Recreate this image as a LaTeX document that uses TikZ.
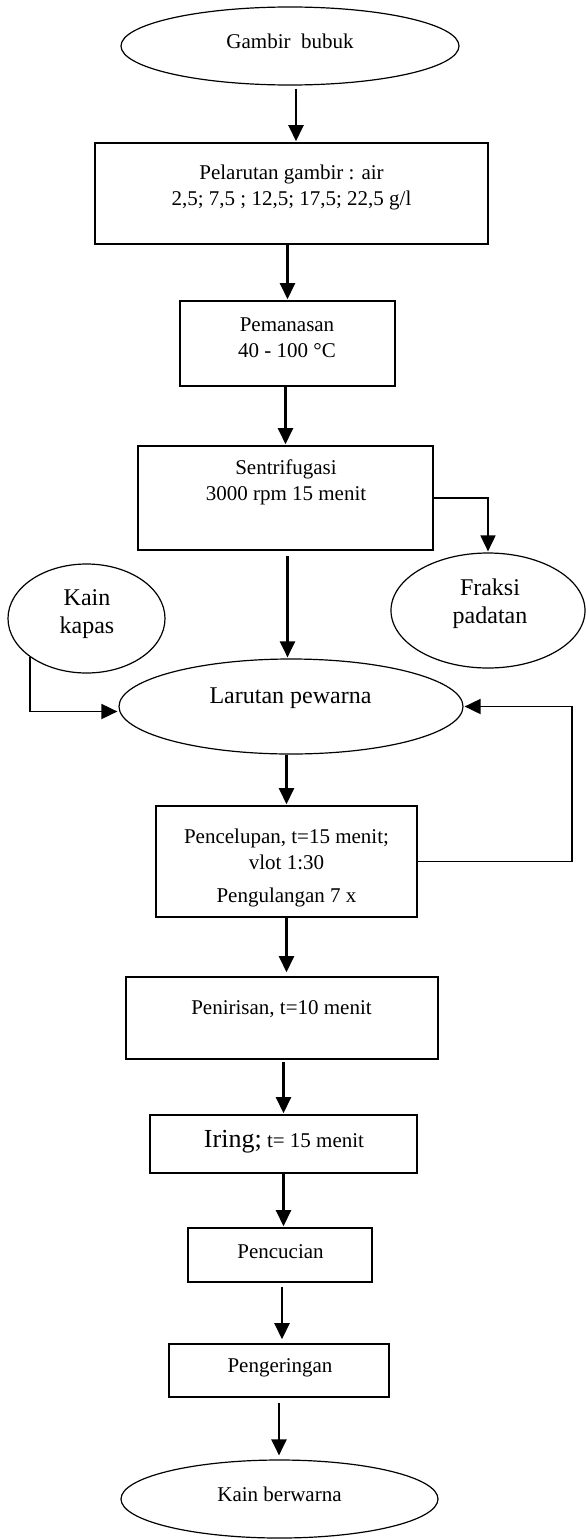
\documentclass[tikz,border=0pt]{standalone}
\usepackage{fontspec}
\setmainfont{Liberation Serif}
\usetikzlibrary{arrows.meta, shapes.geometric}

\begin{document}
\begin{tikzpicture}[
            x = 1pt, y = -1pt, % one unit per pixel, y runs down
            > = {Triangle[width=15pt, length=16pt]}, % arrow head style
            shorten > = 1pt, % don't touch arrow head to node
            font = \fontsize{21}{26}\selectfont
        ]

        \tikzstyle{process}=[
            draw = black,
            line width = 1.6pt,
            rectangle,
            inner sep = 0pt
        ]
        \tikzstyle{terminal}=[
            draw = black,
            line width = 1.2pt,
            ellipse,
            inner sep = 0pt
        ]
        \tikzstyle{txt}=[align = center, inner sep = 0pt]
        \tikzstyle{bigtxt}=[txt, font = \fontsize{24}{28}\selectfont]
        \tikzstyle{flow}=[->, line width = 2.4pt]
        \tikzstyle{sideflow}=[->, line width = 1.8pt]

        \useasboundingbox (0,0) rectangle (586,1539);

	% shapes
	\node[terminal, minimum width = 338pt, minimum height = 78pt] (gambir) at (290,46) {};
	\node[process, minimum width = 393pt, minimum height = 101pt] (pel) at (291.5,193.5) {};
	\node[process, minimum width = 215pt, minimum height = 85pt] (pem) at (287.5,343.5) {};
	\node[process, minimum width = 295pt, minimum height = 104pt] (sen) at (285.5,498) {};
	\node[terminal, minimum width = 194pt, minimum height = 115pt] (fraksi) at (488,610.5) {};
	\node[terminal, minimum width = 157pt, minimum height = 109pt] (kapas) at (86.5,618.5) {};
	\node[terminal, minimum width = 344pt, minimum height = 95pt] (lar) at (291,706.5) {};
	\node[process, minimum width = 261pt, minimum height = 111pt] (pen) at (286.5,861.5) {};
	\node[process, minimum width = 312pt, minimum height = 82pt] (peni) at (282,1018) {};
	\node[process, minimum width = 267pt, minimum height = 58pt] (iring) at (283.5,1144) {};
	\node[process, minimum width = 184pt, minimum height = 54pt] (penc) at (280,1255) {};
	\node[process, minimum width = 220pt, minimum height = 53pt] (peng) at (279,1370.5) {};
	\node[terminal, minimum width = 317pt, minimum height = 78pt] (kainb) at (279.5,1499) {};

	% texts
	\node[txt] (gambir-t) at (290,41) {Gambir\ \ bubuk};
	\node[txt] (pel-t) at (291.5,187) {Pelarutan gambir : air\\2,5; 7,5 ; 12,5; 17,5; 22,5 g/l};
	\node[txt] (pem-t) at (287,338) {Pemanasan\\40 - 100 °C};
	\node[txt] (sen-t) at (286,482) {Sentrifugasi\\3000 rpm 15 menit};
	\node[bigtxt] (fraksi-t) at (490,604) {Fraksi\\padatan};
	\node[bigtxt] (kapas-t) at (87,614) {Kain\\kapas};
	\node[bigtxt] (lar-t) at (290.5,698) {Larutan pewarna};
	\node[txt] (pen-t) at (286.5,868) {Pencelupan, t=15 menit;\\vlot 1:30\\[7pt]Pengulangan 7 x};
	\node[txt] (peni-t) at (281.5,1009) {Penirisan, t=10 menit};
	\node[txt] (iring-t) at (284,1142) {{\fontsize{26}{30}\selectfont Iring;} t= 15 menit};
	\node[txt] (penc-t) at (280.5,1252) {Pencucian};
	\node[txt] (peng-t) at (280,1368) {Pengeringan};
	\node[txt] (kainb-t) at (279.5,1494) {Kain berwarna};

        % connectors
        \draw[flow, shorten <= 3pt] ([xshift=6pt]gambir.south) -- ([xshift=6pt]gambir.south |- pel.north);
        \draw[flow] (pel.south -| pem.north) -- (pem.north);
        \draw[flow] (pem.south -| sen.north) -- (sen.north);
        \draw[sideflow] (sen.east) -| (fraksi.north);
        \draw[flow, shorten <= 5pt] ([xshift=2pt]sen.south) -- ([xshift=2pt]sen.south |- lar.north);
        \draw[sideflow] (kapas.214) |- ([yshift=-5pt]lar.west);
        \draw[flow] (lar.south -| pen.north) -- (pen.north);
        \draw[sideflow] (pen.east) -- ++(154,0) |- (lar.east);
        \draw[flow, shorten >= 4pt] (pen.south) -- (pen.south |- peni.north);
        \draw[flow, shorten <= 2pt] (peni.south -| iring.north) -- (iring.north);
        \draw[flow] (iring.south) -- (iring.south |- penc.north);
        \draw[flow, shorten <= 4pt, shorten >= 4pt] ([xshift=2pt]penc.south) -- ([xshift=2pt]penc.south |- peng.north);
        \draw[flow, shorten <= 5pt, shorten >= 4pt] (peng.south) -- (peng.south |- kainb.north);

    \end{tikzpicture}
\end{document}
